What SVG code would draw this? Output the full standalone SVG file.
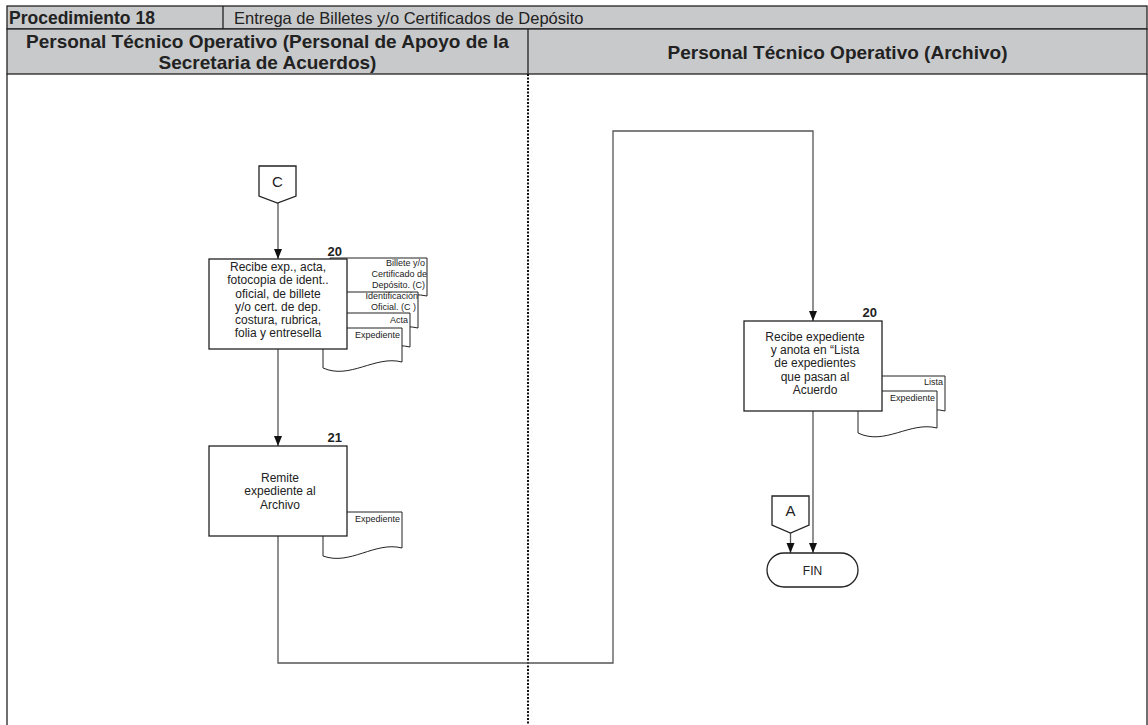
<svg xmlns="http://www.w3.org/2000/svg" width="1148" height="725" viewBox="0 0 1148 725">
<defs>
<marker id="arr" markerWidth="10" markerHeight="10" refX="10" refY="5" orient="auto" markerUnits="userSpaceOnUse" viewBox="0 0 10 10"><path d="M0,1 L10,5 L0,9 Z" fill="#111"/></marker>
</defs>
<style>
.hdr{fill:#c8c9cb;stroke:#222;stroke-width:1.3}
.ln{stroke:#222;stroke-width:1.3;fill:none}
.t{font-family:"Liberation Sans",Arial,sans-serif;fill:#222}
.b{font-weight:bold}
.box{fill:#fff;stroke:#222;stroke-width:1.3}
.doc{fill:#fff;stroke:#222;stroke-width:1}
.dl{font-size:9px;text-anchor:end}
.nt{font-size:12px;text-anchor:middle}
.num{font-size:13px;font-weight:bold;text-anchor:end}
.conn{fill:none;stroke:#555;stroke-width:1.3}
.arrow{marker-end:url(#arr)}
</style>
<rect x="0" y="0" width="1148" height="725" fill="#fff"/>
<g id="header">
<rect class="hdr" x="7" y="6" width="1140" height="23"/>
<rect class="hdr" x="7" y="29" width="1140" height="45"/>
<line class="ln" x1="223" y1="6" x2="223" y2="29"/>
<line class="ln" x1="528" y1="29" x2="528" y2="74"/>
<line class="ln" x1="7" y1="74" x2="7" y2="725"/>
<line class="ln" x1="1147" y1="74" x2="1147" y2="725"/>
<line x1="528" y1="74" x2="528" y2="725" stroke="#111" stroke-width="2" stroke-dasharray="2 1.5"/>
<text class="t b" x="9" y="24" font-size="17.5">Procedimiento 18</text>
<text class="t" x="234" y="24" font-size="16.5">Entrega de Billetes y/o Certificados de Depósito</text>
<text class="t b" x="267.5" y="48" font-size="19" text-anchor="middle">Personal Técnico Operativo (Personal de Apoyo de la</text>
<text class="t b" x="267.5" y="69" font-size="19" text-anchor="middle">Secretaria de Acuerdos)</text>
<text class="t b" x="837.5" y="59" font-size="19" text-anchor="middle">Personal Técnico Operativo (Archivo)</text>
</g>
<g id="connectors">
<line class="conn arrow" x1="278" y1="203" x2="278" y2="259"/>
<line class="conn arrow" x1="278" y1="349" x2="278" y2="446"/>
<polyline class="conn arrow" points="278,536 278,663 613,663 613,131 813,131 813,321"/>
<line class="conn arrow" x1="813" y1="411" x2="813" y2="553"/>
<line class="conn arrow" x1="790.5" y1="533" x2="790.5" y2="553"/>
</g>
<g id="conn-C">
<path class="box" d="M259,166 H296 V196 L277.5,203 L259,196 Z"/>
<text class="t" x="277.5" y="187" font-size="15" text-anchor="middle">C</text>
</g>
<g id="node-20a">
<path class="doc" d="M330,258 h97 v38 c-33,-7 -64,18 -97,6 z"/>
<text class="t dl" x="425" y="266">Billete y/o</text>
<text class="t dl" x="427" y="277">Certificado de</text>
<text class="t dl" x="425" y="288">Depósito. (C)</text>
<path class="doc" d="M327,292 h91 v36 c-31,-7 -60,18 -91,6 z"/>
<text class="t dl" x="418" y="299">Identificación</text>
<text class="t dl" x="416" y="310">Oficial. (C )</text>
<path class="doc" d="M325,313 h85 v34 c-29,-7 -56,18 -85,6 z"/>
<text class="t dl" x="408" y="323">Acta</text>
<path class="doc" d="M323,328 h79 v34 c-27,-7 -52,18 -79,6 z"/>
<text class="t dl" x="400" y="338">Expediente</text>
<rect class="box" x="209" y="259" width="138" height="90"/>
<text class="t num" x="342" y="256">20</text>
<text class="t nt" x="278" y="271">Recibe exp., acta,</text>
<text class="t nt" x="278" y="284">fotocopia de ident..</text>
<text class="t nt" x="278" y="298">oficial, de billete</text>
<text class="t nt" x="278" y="311">y/o cert. de dep.</text>
<text class="t nt" x="278" y="324">costura, rubrica,</text>
<text class="t nt" x="278" y="337">folia y entresella</text>
</g>
<g id="node-21">
<path class="doc" d="M323,512 h79 v36 c-27,-7 -52,18 -79,8 z"/>
<text class="t dl" x="400" y="522">Expediente</text>
<rect class="box" x="209" y="446" width="138" height="90"/>
<text class="t num" x="342" y="442">21</text>
<text class="t nt" x="280" y="482">Remite</text>
<text class="t nt" x="280" y="495">expediente al</text>
<text class="t nt" x="280" y="509">Archivo</text>
</g>
<g id="node-20b">
<path class="doc" d="M860,376 h85 v35 c-29,-7 -56,18 -85,6 z"/>
<text class="t dl" x="943" y="385">Lista</text>
<path class="doc" d="M858,391 h79 v37 c-27,-7 -52,18 -79,5 z"/>
<text class="t dl" x="935" y="401">Expediente</text>
<rect class="box" x="744" y="321" width="138" height="90"/>
<text class="t num" x="877" y="317">20</text>
<text class="t nt" x="815" y="341">Recibe expediente</text>
<text class="t nt" x="815" y="354">y anota en “Lista</text>
<text class="t nt" x="815" y="367">de expedientes</text>
<text class="t nt" x="815" y="381">que pasan al</text>
<text class="t nt" x="815" y="394">Acuerdo</text>
</g>
<g id="conn-A">
<path class="box" d="M772,496 H809 V525 L790.5,533 L772,525 Z"/>
<text class="t" x="790.5" y="516" font-size="15" text-anchor="middle">A</text>
</g>
<g id="node-fin">
<rect class="box" x="767" y="553" width="91" height="34" rx="17" ry="17"/>
<text class="t" x="812.5" y="575" font-size="12" text-anchor="middle">FIN</text>
</g>
</svg>
